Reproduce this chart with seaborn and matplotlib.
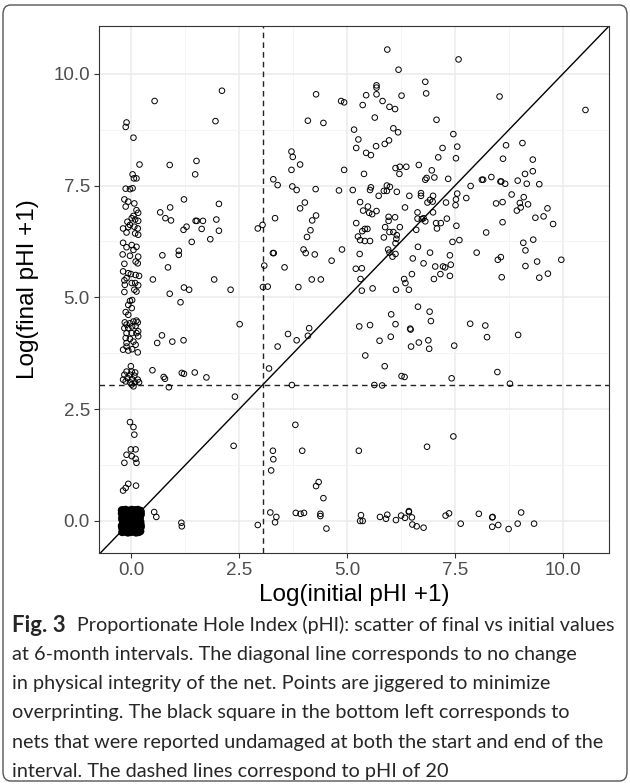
import numpy as np
import pandas as pd
import matplotlib
matplotlib.use("Agg")
import matplotlib.pyplot as plt
import seaborn as sns
from matplotlib.patches import FancyBboxPatch
from matplotlib.ticker import MultipleLocator

# (initial, final) on the log(pHI + 1) scale
column_pts = [
    (-0.11, 8.91), (-0.13, 8.81), (0.05, 8.57), (0.19, 7.97), (0.03, 7.75), (0.06, 7.66),
    (0.12, 7.66), (-0.13, 7.43), (-0.03, 7.42), (0.03, 7.44), (-0.16, 7.19), (-0.07, 7.14),
    (0.07, 7.10), (-0.13, 7.03), (0.12, 6.95), (0.16, 6.89), (0.05, 6.82), (0.01, 6.77),
    (0.09, 6.74), (0.16, 6.71), (-0.09, 6.69), (-0.03, 6.62), (-0.19, 6.54), (-0.07, 6.57),
    (0.07, 6.58), (0.15, 6.54), (-0.11, 6.45), (0.09, 6.43), (0.16, 6.40), (-0.19, 6.22),
    (-0.11, 6.12), (-0.20, 5.96), (0.01, 6.17), (0.12, 6.13), (0.05, 6.06), (0.16, 5.91),
    (0.15, 5.76), (0.10, 5.80), (-0.03, 5.93), (-0.16, 5.75), (-0.19, 5.58), (-0.07, 5.54),
    (-0.01, 5.52), (0.10, 5.50), (0.18, 5.48), (-0.11, 5.43), (-0.16, 5.38), (-0.15, 5.28),
    (0.01, 5.32), (0.09, 5.32), (0.16, 5.27), (-0.16, 5.12), (0.07, 5.17), (0.12, 5.13),
    (-0.03, 4.92), (0.02, 4.94), (-0.07, 4.83), (0.01, 4.76), (-0.13, 4.67), (-0.07, 4.61),
    (-0.15, 4.44), (-0.11, 4.39), (-0.03, 4.42), (0.05, 4.46), (0.12, 4.48), (0.15, 4.44),
    (-0.16, 4.31), (-0.07, 4.31), (0.02, 4.35), (0.10, 4.36), (0.16, 4.24), (-0.11, 4.20),
    (0.01, 4.20), (0.12, 4.20), (0.16, 4.13), (-0.13, 4.09), (-0.03, 4.07), (0.05, 4.01),
    (-0.11, 3.98), (0.10, 3.94), (-0.19, 3.83), (-0.07, 3.81), (0.02, 3.84), (0.15, 3.77),
    (-0.11, 3.90), (-0.01, 3.46), (-0.11, 3.34), (0.01, 3.34), (0.09, 3.32), (-0.16, 3.27),
    (-0.03, 3.27), (0.07, 3.25), (-0.09, 3.20), (0.02, 3.17), (0.15, 3.16), (-0.13, 3.12),
    (-0.03, 3.10), (0.09, 3.10), (0.18, 3.10), (0.01, 3.05), (0.05, 3.01), (-0.19, 3.16),
    (-0.03, 2.21), (0.05, 2.10), (0.07, 1.93), (-0.01, 1.60), (0.10, 1.60), (-0.11, 1.48),
    (0.01, 1.45), (0.10, 1.39), (-0.16, 1.30), (0.12, 1.30), (-0.07, 0.83), (-0.13, 0.74),
    (-0.19, 0.68), (0.11, 0.79),
]

low_initial_pts = [
    (0.54, 9.39), (1.95, 8.94), (0.89, 7.96), (1.51, 8.05), (1.48, 7.75), (1.22, 7.19),
    (2.03, 7.09), (0.67, 6.90), (0.90, 7.01), (0.79, 6.77), (0.92, 6.72), (1.21, 6.51),
    (1.28, 6.58), (1.49, 6.71), (1.52, 6.71), (1.66, 6.71), (1.63, 6.53), (1.97, 6.74),
    (2.03, 6.49), (1.83, 6.30), (1.40, 6.24), (0.72, 5.94), (1.10, 6.04), (1.10, 5.95),
    (0.85, 5.67), (0.50, 5.40), (1.92, 5.40), (1.22, 5.22), (1.34, 5.17), (0.89, 5.08),
    (1.14, 4.89), (0.71, 4.15), (0.60, 3.98), (0.95, 4.01), (1.21, 4.04), (0.49, 3.37),
    (0.75, 3.22), (0.78, 3.18), (0.87, 2.99), (1.17, 3.31), (1.22, 3.29), (1.47, 3.32),
    (1.74, 3.21), (0.53, 0.20), (0.58, 0.09), (1.16, -0.04), (1.17, -0.12),
]

mid_initial_pts = [
    (2.10, 9.62), (4.28, 9.54), (4.86, 9.39), (4.93, 9.36), (4.09, 8.95), (4.45, 8.90),
    (3.71, 8.26), (3.74, 8.14), (3.91, 7.97), (3.71, 7.85), (4.93, 7.85), (3.29, 7.64),
    (3.39, 7.51), (3.73, 7.48), (3.83, 7.40), (4.27, 7.42), (4.81, 7.39), (4.02, 7.12),
    (3.91, 6.99), (3.33, 6.77), (4.28, 6.83), (4.19, 6.72), (4.15, 6.50), (4.07, 6.35),
    (2.93, 6.54), (3.04, 6.62), (3.28, 5.99), (3.30, 5.99), (3.08, 5.71), (3.55, 5.67),
    (3.99, 6.07), (4.04, 5.99), (4.25, 5.96), (4.88, 6.07), (4.64, 5.82), (2.30, 5.17),
    (3.05, 5.23), (3.16, 5.24), (3.87, 5.23), (4.18, 5.40), (4.39, 5.40),
    (2.51, 4.40), (3.63, 4.18), (3.83, 4.04), (4.12, 4.31), (4.09, 4.14), (3.39, 3.90),
    (3.19, 3.41), (3.72, 3.04), (2.40, 2.78), (3.80, 2.15), (2.37, 1.68), (3.28, 1.57),
    (3.29, 1.38), (3.24, 1.13), (3.96, 1.57), (4.34, 0.87), (4.28, 0.78), (4.45, 0.51),
    (3.22, 0.19), (3.36, 0.09), (3.33, -0.03), (3.81, 0.18), (3.92, 0.16), (4.00, 0.18),
    (4.38, 0.16), (4.38, 0.11), (4.52, -0.17), (2.93, -0.09),
]

high_initial_pts = [
    (5.93, 10.54), (7.58, 10.32), (6.19, 10.09), (6.81, 9.82), (6.83, 9.56), (5.68, 9.74),
    (5.68, 9.69), (5.68, 9.54), (5.44, 9.52), (5.82, 9.39), (5.36, 9.30), (5.98, 9.26),
    (6.11, 9.21), (6.26, 9.51), (5.64, 9.02), (7.07, 8.97), (5.16, 8.75), (6.07, 8.78),
    (6.18, 8.69), (5.26, 8.53), (5.21, 8.34), (5.97, 8.51), (5.87, 8.43), (5.67, 8.38),
    (5.44, 8.23), (5.55, 8.18), (7.46, 8.65), (7.55, 8.37), (7.21, 8.34), (7.11, 8.13),
    (7.52, 8.11), (6.12, 7.89), (6.22, 7.92), (6.37, 7.92), (6.21, 7.76), (6.66, 7.96),
    (5.39, 7.76), (6.96, 7.84), (6.84, 7.67), (7.02, 7.68), (6.81, 7.63), (7.34, 7.65),
    (8.12, 7.63), (8.15, 7.63), (5.13, 7.40), (5.55, 7.46), (5.53, 7.40), (5.92, 7.50),
    (5.99, 7.47), (5.85, 7.38), (5.92, 7.38), (6.15, 7.36), (5.73, 7.27), (7.86, 7.49),
    (7.76, 7.22), (7.55, 7.32), (7.52, 7.19), (7.51, 7.06), (6.44, 7.27), (6.71, 7.33),
    (6.71, 7.27), (6.99, 7.27), (6.92, 7.18), (6.86, 7.12), (6.98, 7.14), (7.29, 7.12),
    (5.30, 7.13), (5.48, 7.03), (5.37, 6.94), (5.51, 6.89), (5.58, 6.86), (5.68, 6.93),
    (6.34, 7.01), (6.63, 6.90), (6.99, 6.90), (5.96, 6.80), (6.11, 6.79), (5.96, 6.71),
    (6.63, 6.76), (6.77, 6.77), (6.73, 6.75), (6.81, 6.70), (7.31, 6.76), (5.21, 6.66),
    (7.06, 6.66), (7.17, 6.66), (7.08, 6.54), (7.53, 6.60), (5.88, 6.57), (5.98, 6.46),
    (6.07, 6.46), (6.22, 6.57), (5.41, 6.53), (5.47, 6.53), (5.35, 6.48), (6.60, 6.51),
    (5.25, 6.36), (5.30, 6.28), (5.41, 6.26), (5.53, 6.26), (5.85, 6.34), (6.15, 6.39),
    (6.14, 6.31), (6.12, 6.21), (7.44, 6.24), (7.60, 6.28), (6.64, 6.13), (5.29, 5.97),
    (5.95, 6.07), (5.98, 6.00), (6.05, 5.91), (6.12, 5.97), (6.52, 5.87), (6.92, 6.00),
    (7.38, 5.94), (8.00, 6.00), (8.22, 6.45), (6.77, 5.76), (5.20, 5.64), (5.34, 5.65),
    (5.31, 5.41), (6.50, 5.52), (7.04, 5.69), (7.22, 5.69), (7.27, 5.67), (7.40, 5.73),
    (7.01, 5.41), (7.16, 5.52), (7.38, 5.48), (6.32, 5.41), (6.35, 5.32), (5.34, 5.15),
    (5.59, 5.20), (6.13, 5.17), (6.43, 5.17),
    (6.64, 4.79), (6.91, 4.68), (6.94, 4.47), (6.02, 4.62), (6.12, 4.40), (5.28, 4.35),
    (5.53, 4.38), (6.46, 4.30), (6.47, 4.28), (7.85, 4.41), (8.20, 4.37), (8.24, 4.11),
    (6.01, 4.12), (5.75, 4.03), (6.48, 3.90), (6.66, 3.99), (6.88, 4.04), (6.90, 3.85),
    (7.48, 3.92), (5.42, 3.70), (5.87, 3.46), (6.26, 3.24), (6.33, 3.22), (7.42, 3.19),
    (5.63, 3.04), (5.81, 3.03), (5.27, 1.57), (6.85, 1.66), (7.46, 1.89),
    (5.30, 0.00), (5.36, 0.00), (5.32, 0.13), (5.76, 0.09), (5.90, 0.05), (5.93, 0.14),
    (6.13, 0.02), (6.25, 0.12), (6.34, 0.07), (6.43, 0.20), (6.43, 0.22), (6.50, 0.08),
    (6.51, -0.08), (6.61, -0.12), (6.77, -0.15), (7.28, 0.12), (7.36, 0.17), (7.63, -0.06),
    (8.05, 0.16),
]

top_initial_pts = [
    (8.53, 9.49), (10.52, 9.19), (8.68, 8.40), (9.06, 8.45), (8.61, 8.10), (9.30, 8.08),
    (9.12, 7.76), (9.30, 7.82), (8.34, 7.69), (8.55, 7.59), (8.57, 7.59), (8.66, 7.54),
    (8.95, 7.61), (9.16, 7.54), (9.45, 7.53), (8.81, 7.30), (9.09, 7.24), (8.45, 7.10),
    (8.60, 7.13), (9.00, 7.11), (9.19, 7.08), (8.93, 6.94), (9.02, 7.01), (9.64, 6.99),
    (9.55, 6.81), (9.36, 6.78), (8.60, 6.68), (9.77, 6.64), (9.08, 6.22), (9.31, 6.29),
    (9.13, 6.05), (8.49, 5.84), (8.56, 5.90), (9.96, 5.84), (9.13, 5.70), (9.40, 5.80),
    (8.58, 5.45), (9.45, 5.44), (9.65, 5.53), (8.96, 4.16), (8.48, 3.33), (8.77, 3.07),
    (8.36, 0.08), (8.37, 0.09), (8.36, -0.13), (8.50, -0.09), (8.74, -0.18), (8.95, -0.06),
    (9.03, 0.19), (9.33, -0.06),
]

# nets undamaged at start and end (pHI = 0), jittered around the origin
undamaged_pts = [
    (-0.21, -0.25), (-0.15, -0.24), (-0.08, -0.26), (-0.02, -0.25), (0.05, -0.24), (0.11, -0.26),
    (0.17, -0.25), (0.21, -0.23), (-0.20, -0.18), (-0.13, -0.17), (-0.06, -0.19), (0.01, -0.18),
    (0.08, -0.17), (0.14, -0.19), (0.20, -0.17), (-0.22, -0.11), (-0.16, -0.10), (-0.09, -0.12),
    (-0.03, -0.10), (0.04, -0.11), (0.10, -0.09), (0.16, -0.12), (0.22, -0.10), (-0.19, -0.04),
    (-0.12, -0.03), (-0.05, -0.05), (0.02, -0.03), (0.09, -0.04), (0.15, -0.02), (0.21, -0.05),
    (-0.21, 0.03), (-0.14, 0.02), (-0.07, 0.04), (0.00, 0.02), (0.06, 0.04), (0.12, 0.03),
    (0.18, 0.01), (-0.20, 0.10), (-0.13, 0.09), (-0.06, 0.11), (0.01, 0.09), (0.07, 0.10),
    (0.13, 0.11), (0.20, 0.09), (-0.22, 0.17), (-0.16, 0.16), (-0.09, 0.18), (-0.02, 0.17),
    (0.05, 0.16), (0.11, 0.18), (0.17, 0.17), (0.22, 0.15), (-0.20, 0.24), (-0.13, 0.25),
    (-0.06, 0.23), (0.01, 0.25), (0.08, 0.24), (0.15, 0.25), (0.21, 0.23), (-0.17, -0.21),
    (-0.10, -0.14), (0.03, -0.21), (0.12, -0.14), (-0.18, -0.07), (-0.01, -0.07), (0.13, -0.06),
    (-0.10, 0.00), (0.04, 0.00), (0.19, 0.05), (-0.17, 0.06), (-0.03, 0.06), (0.10, 0.06),
    (-0.10, 0.13), (0.03, 0.13), (0.17, 0.13), (-0.17, 0.20), (-0.04, 0.21), (0.09, 0.20),
    (0.19, 0.20), (-0.19, -0.21), (-0.12, -0.22), (-0.05, -0.22), (0.08, -0.21), (0.15, -0.22),
    (0.19, -0.20), (-0.21, -0.15), (-0.14, -0.14), (-0.03, -0.15), (0.05, -0.14), (0.17, -0.15),
    (0.22, -0.14), (-0.20, -0.08), (-0.07, -0.08), (0.06, -0.07), (0.18, -0.08), (-0.14, -0.01),
    (-0.04, -0.01), (0.08, -0.01), (0.21, -0.01), (-0.21, 0.07), (-0.08, 0.07), (0.04, 0.07),
    (0.15, 0.07), (-0.15, 0.13), (-0.05, 0.14), (0.09, 0.14), (0.21, 0.12), (-0.12, 0.21),
    (0.02, 0.21), (0.14, 0.21), (0.22, 0.20), (-0.22, 0.24), (0.12, 0.24),
]

ticks = [0, 2.5, 5, 7.5, 10]
tick_labels = ["0.0", "2.5", "5.0", "7.5", "10.0"]
cutoff = np.log(20 + 1)  # pHI of 20

caption_head = "Fig. 3"
caption_lines = [
    "Proportionate Hole Index (pHI): scatter of final vs initial values",
    "at 6-month intervals. The diagonal line corresponds to no change",
    "in physical integrity of the net. Points are jiggered to minimize",
    "overprinting. The black square in the bottom left corresponds to",
    "nets that were reported undamaged at both the start and end of the",
    "interval. The dashed lines correspond to pHI of 20",
]

groups = [column_pts, low_initial_pts, mid_initial_pts, high_initial_pts,
          top_initial_pts]
df = pd.concat([pd.DataFrame(g, columns=["initial", "final"]) for g in groups],
               ignore_index=True)
df_zero = pd.DataFrame(undamaged_pts, columns=["initial", "final"])

sns.set_theme(style="whitegrid")
plt.rcParams["font.family"] = ["Liberation Sans", "DejaVu Sans"]

fig = plt.figure(figsize=(6.3, 7.84), dpi=100)
ax = fig.add_axes([0.157, 0.295, 0.81, 0.672])

ax.axline((0, 0), (1, 1), color="black", lw=1.0, zorder=2)
ax.axvline(cutoff, color="#222222", lw=1.0, ls=(0, (4, 3)), zorder=2)
ax.axhline(cutoff, color="#222222", lw=1.0, ls=(0, (4, 3)), zorder=2)

sns.scatterplot(data=df, x="initial", y="final", ax=ax, marker="o", s=16,
                facecolor="none", edgecolor="black", linewidth=0.7,
                legend=False, zorder=3)
# the many overprinted zero/zero nets merge into a solid block
sns.scatterplot(data=df_zero, x="initial", y="final", ax=ax, marker="o", s=16,
                facecolor="none", edgecolor="black", linewidth=1.8,
                legend=False, zorder=3)

ax.set_xlim(-0.75, 11.07)
ax.set_ylim(-0.71, 11.07)
ax.set_xticks(ticks)
ax.set_xticklabels(tick_labels)
ax.set_yticks(ticks)
ax.set_yticklabels(tick_labels)
ax.xaxis.set_minor_locator(MultipleLocator(1.25))
ax.yaxis.set_minor_locator(MultipleLocator(1.25))
ax.grid(which="major", color="#ebebeb", lw=1.1)
ax.grid(which="minor", color="#f3f3f3", lw=0.6)
ax.set_axisbelow(True)
for sp in ax.spines.values():
    sp.set_color("#333333")
    sp.set_linewidth(0.8)
ax.tick_params(which="major", direction="out", length=3.5, width=0.8,
               color="#333333", labelsize=13.5, labelcolor="#4d4d4d", pad=3,
               bottom=True, left=True)
ax.tick_params(which="minor", length=0)

ax.set_xlabel("Log(initial pHI +1)", fontsize=17.5, color="black", labelpad=4)
ax.set_ylabel("Log(final pHI +1)", fontsize=17.5, color="black", labelpad=10)

# caption
cap_font = ["Lato", "DejaVu Sans"]
cap_size = 14.3
y0 = 1 - 625 / 784
dy = 29.3 / 784
fig.text(12 / 630, y0, caption_head, fontsize=16, fontweight="bold",
         family=cap_font, va="center", ha="left")
fig.text(77 / 630, y0, caption_lines[0], fontsize=cap_size - 0.1, family=cap_font,
         va="center", ha="left")
for i, line in enumerate(caption_lines[1:], start=1):
    fig.text(12 / 630, y0 - i * dy, line, fontsize=cap_size, family=cap_font,
             va="center", ha="left")

frame = FancyBboxPatch((3 / 630, 3 / 784), 624 / 630, 776 / 784,
                       boxstyle="round,pad=0,rounding_size=0.012",
                       transform=fig.transFigure, facecolor="none",
                       edgecolor="#555555", lw=1.0)
fig.patches.append(frame)

fig.savefig("out.png", dpi=100)
